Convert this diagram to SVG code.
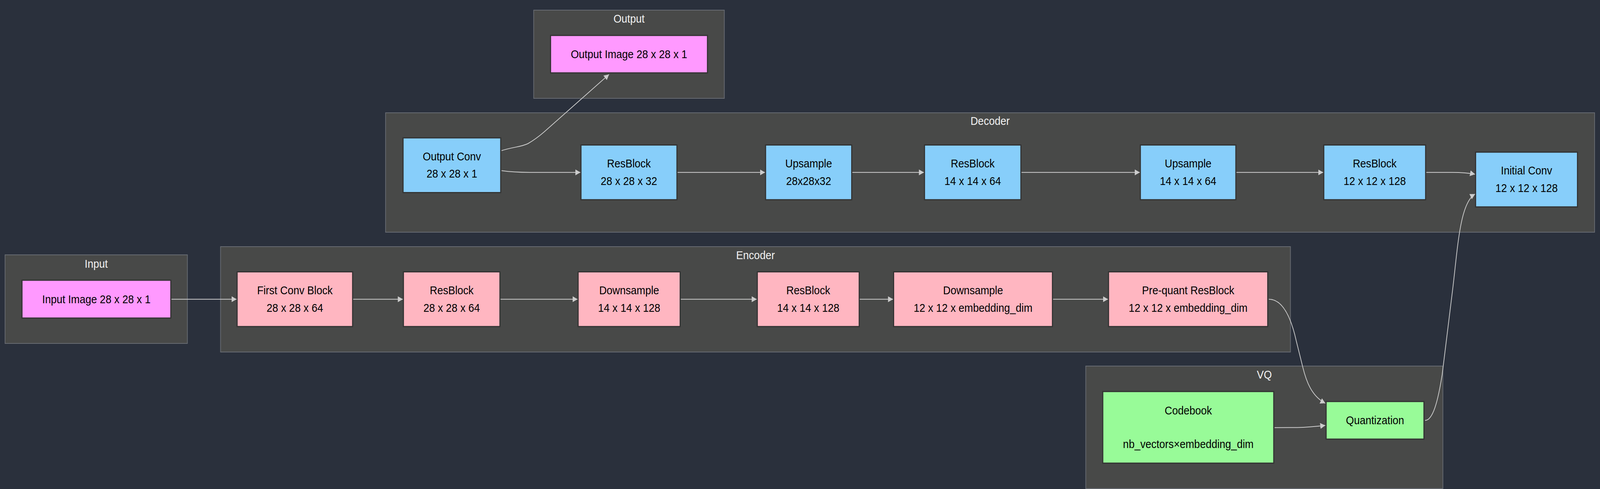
<svg xmlns="http://www.w3.org/2000/svg" width="4440" height="1253" viewBox="0 0 4440 1253" preserveAspectRatio="none" style="width:100%;height:100%">
<defs>
<marker id="arrow" markerUnits="userSpaceOnUse" markerWidth="15" markerHeight="16" refX="14" refY="7.5" orient="auto">
<path d="M0,0 L14,7.5 L0,15 z" fill="#cccccc"/>
</marker>
</defs>
<style>
.cluster rect{fill:#484948;stroke:#676b72;stroke-width:2}
.ctitle{font-family:"Liberation Sans",Arial,sans-serif;font-size:28.8px;fill:#f2f2f2;text-anchor:middle}
.node rect{stroke:#333333;stroke-width:3}
.node text{font-family:"Liberation Sans",Arial,sans-serif;font-size:28.8px;fill:#000000;text-anchor:middle}
.io rect{fill:#ff99ff}
.enc rect{fill:#ffb6c1}
.dec rect{fill:#87cefa}
.vq rect{fill:#98fb98}
#edges path{fill:none;stroke:#cccccc;stroke-width:2;marker-end:url(#arrow)}
</style>
<rect x="0" y="0" width="4440" height="1253" fill="#2a303c"/>

<g id="clusters">
<g id="cluster-output" class="cluster"><rect x="1481" y="26" width="529" height="226"/><text class="ctitle" x="1745.5" y="58">Output</text></g>
<g id="cluster-decoder" class="cluster"><rect x="1070" y="289" width="3355" height="306"/><text class="ctitle" x="2747.5" y="320">Decoder</text></g>
<g id="cluster-input" class="cluster"><rect x="14" y="653" width="506" height="227"/><text class="ctitle" x="267" y="686">Input</text></g>
<g id="cluster-encoder" class="cluster"><rect x="612" y="632" width="2969" height="270"/><text class="ctitle" x="2096.5" y="664">Encoder</text></g>
<g id="cluster-vq" class="cluster"><rect x="3013" y="938" width="991" height="314"/><text class="ctitle" x="3508.5" y="970">VQ</text></g>
</g>

<g id="edges">
<path d="M475.6,766.7 L656.6,766.7"/>
<path d="M980,766.7 L1118,766.7"/>
<path d="M1388.8,766.7 L1602.8,766.7"/>
<path d="M1889,766.7 L2100,766.7"/>
<path d="M2385.8,766.7 L2478.3,766.7"/>
<path d="M2922,766.7 L3074.7,766.7"/>
<path d="M3521,766.7 C3560,766.7 3583,815 3597,873 L3615,940 C3625,978 3640,1015 3677.7,1033.3"/>
<path d="M3537,1095.7 L3600,1095.5 C3630,1095 3655,1092.5 3677.7,1090"/>
<path d="M3954.5,1077.3 C3976,1077 3990,1030 4002,960 L4030,750 C4045,640 4050,520 4093.3,497.3"/>
<path d="M3958,441.7 L4030,441.7 C4060,441.7 4075,443 4093.3,446.5"/>
<path d="M3431,441.7 L3672,441.7"/>
<path d="M2834.5,441.7 L3163,441.7"/>
<path d="M2365,441.7 L2564,441.7"/>
<path d="M1880,441.7 L2123,441.7"/>
<path d="M1391.7,437.3 C1420,441 1440,441.7 1470,441.7 L1610.7,441.7"/>
<path d="M1391.7,386 C1425,376 1445,377 1465,368 C1480,360 1490,354 1510,338 L1690,190.7"/>
</g>

<g id="node-output-image" class="node io"><rect x="1527.8" y="90.8" width="435.4" height="96"/><text x="1745.5" y="149">Output Image 28 x 28 x 1</text></g>

<g id="node-output-conv" class="node dec"><rect x="1118.5" y="353.2" width="271" height="140.3"/><text x="1254" y="410.8">Output Conv</text><text x="1254" y="455.3">28 x 28 x 1</text></g>
<g id="node-dec-res1" class="node dec"><rect x="1612.2" y="371.5" width="266.3" height="140.3"/><text x="1745.3" y="429.2">ResBlock</text><text x="1745.3" y="473.7">28 x 28 x 32</text></g>
<g id="node-dec-up1" class="node dec"><rect x="2124.5" y="371.5" width="239" height="140.3"/><text x="2244" y="429.2">Upsample</text><text x="2244" y="473.7">28x28x32</text></g>
<g id="node-dec-res2" class="node dec"><rect x="2565.5" y="371.5" width="267.5" height="140.3"/><text x="2699.3" y="429.2">ResBlock</text><text x="2699.3" y="473.7">14 x 14 x 64</text></g>
<g id="node-dec-up2" class="node dec"><rect x="3164.5" y="371.5" width="265" height="140.3"/><text x="3297" y="429.2">Upsample</text><text x="3297" y="473.7">14 x 14 x 64</text></g>
<g id="node-dec-res3" class="node dec"><rect x="3673.5" y="371.5" width="282.6" height="140.3"/><text x="3814.8" y="429.2">ResBlock</text><text x="3814.8" y="473.7">12 x 12 x 128</text></g>
<g id="node-initial-conv" class="node dec"><rect x="4094.8" y="389.8" width="282.7" height="140.4"/><text x="4236.2" y="447.5">Initial Conv</text><text x="4236.2" y="492">12 x 12 x 128</text></g>

<g id="node-input-image" class="node io"><rect x="61" y="718" width="413" height="97"/><text x="267.5" y="777">Input Image 28 x 28 x 1</text></g>

<g id="node-first-conv" class="node enc"><rect x="658" y="696.5" width="320.5" height="140.3"/><text x="818.3" y="754.3">First Conv Block</text><text x="818.3" y="799">28 x 28 x 64</text></g>
<g id="node-enc-res1" class="node enc"><rect x="1119.5" y="696.5" width="267.8" height="140.3"/><text x="1253.4" y="754.3">ResBlock</text><text x="1253.4" y="799">28 x 28 x 64</text></g>
<g id="node-enc-down1" class="node enc"><rect x="1604.3" y="696.5" width="283.2" height="140.3"/><text x="1745.9" y="754.3">Downsample</text><text x="1745.9" y="799">14 x 14 x 128</text></g>
<g id="node-enc-res2" class="node enc"><rect x="2101.5" y="696.5" width="282.8" height="140.3"/><text x="2242.9" y="754.3">ResBlock</text><text x="2242.9" y="799">14 x 14 x 128</text></g>
<g id="node-enc-down2" class="node enc"><rect x="2479.8" y="696.5" width="440.7" height="140.3"/><text x="2700.2" y="754.3">Downsample</text><text x="2700.2" y="799">12 x 12 x embedding_dim</text></g>
<g id="node-prequant" class="node enc"><rect x="3076.2" y="696.5" width="441.8" height="140.3"/><text x="3297.1" y="754.3">Pre-quant ResBlock</text><text x="3297.1" y="799">12 x 12 x embedding_dim</text></g>

<g id="node-codebook" class="node vq"><rect x="3060.2" y="1003.2" width="474.5" height="183.6"/><text x="3297.5" y="1061.7">Codebook</text><text x="3297.5" y="1148.3">nb_vectors×embedding_dim</text></g>
<g id="node-quantization" class="node vq"><rect x="3680" y="1028.8" width="271.5" height="96.4"/><text x="3815.7" y="1087">Quantization</text></g>
</svg>
